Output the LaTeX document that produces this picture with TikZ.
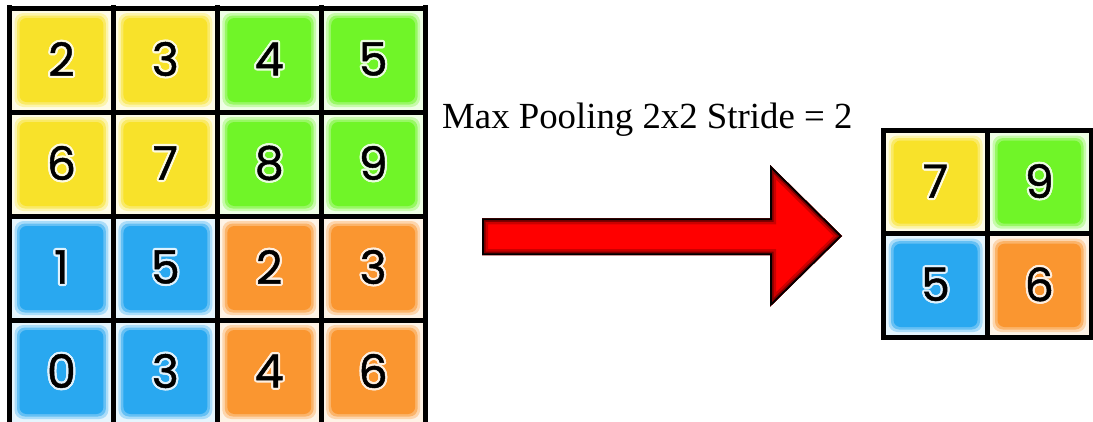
\documentclass[tikz,border=0pt]{standalone}
\usepackage{fontspec}
\setmainfont{Liberation Serif}
\newfontfamily\digitfont[FakeBold=1]{Poppins}
\definecolor{cy}{RGB}{248,226,42}
\definecolor{cg}{RGB}{112,245,40}
\definecolor{cb}{RGB}{41,168,240}
\definecolor{co}{RGB}{250,150,48}
\definecolor{arrowred}{RGB}{255,0,0}
\tikzset{
  digit/.style={font=\digitfont\fontsize{46}{50}\selectfont, inner sep=0pt, text=black},
  gridline/.style={line width=5pt, black},
  caption/.style={font=\fontsize{36.8}{42}\selectfont, inner sep=0pt, anchor=base west}
}
% #1,#2 top-left line centres; #3,#4 bottom-right; #5 colour; #6 digit; #7 name
\newcommand\poolcell[7]{%
  \fill[#5!12] (#1+2.5,#2+2.5) rectangle (#3-2.5,#4-2.5);
  \fill[#5!40, rounded corners=9pt] (#1+5,#2+5) rectangle (#3-5,#4-5);
  \fill[#5!72, rounded corners=8pt] (#1+7.5,#2+7.5) rectangle (#3-7.5,#4-7.5);
  \fill[#5, rounded corners=7pt] (#1+10,#2+10) rectangle (#3-10,#4-10);
  \foreach \a in {0,30,...,330}{
    \node[digit, text=#5!15] at ({(#1+#3)/2+2.2*cos(\a)},{(#2+#4)/2-1+2.2*sin(\a)}) {#6};
  }
  \node[digit] (#7) at ({(#1+#3)/2},{(#2+#4)/2-1}) {#6};
}
\begin{document}
\begin{tikzpicture}[x=1pt,y=-1pt]
\clip (0,0) rectangle (1093,421);
\fill[white] (0,0) rectangle (1093,421);
% left 4x4 grid
\foreach \r/\row in {0/{2/cy,3/cy,4/cg,5/cg},1/{6/cy,7/cy,8/cg,9/cg},2/{1/cb,5/cb,2/co,3/co},3/{0/cb,3/cb,4/co,6/co}}{
  \foreach \d/\c [count=\k from 0] in \row {
    \pgfmathsetmacro\xa{9.5+\k*103.9}
    \pgfmathsetmacro\xb{9.5+(\k+1)*103.9}
    \pgfmathsetmacro\ya{8+\r*104}
    \pgfmathsetmacro\yb{8+(\r+1)*104}
    \poolcell{\xa}{\ya}{\xb}{\yb}{\c}{\d}{in-\r-\k}
  }
}
\foreach \i in {0,...,4}{
  \draw[gridline] (9.5+\i*103.9,5) -- (9.5+\i*103.9,430);
  \draw[gridline] (7,8+\i*104) -- (428,8+\i*104);
}
% right 2x2 grid
\poolcell{883.5}{130.5}{987.5}{233.7}{cy}{7}{out-0-0}
\poolcell{987.5}{130.5}{1091}{233.7}{cg}{9}{out-0-1}
\poolcell{883.5}{233.7}{987.5}{337}{cb}{5}{out-1-0}
\poolcell{987.5}{233.7}{1091}{337}{co}{6}{out-1-1}
\draw[gridline] (883.5,130.5) rectangle (1091,337);
\draw[gridline] (987.5,128) -- (987.5,339.5);
\draw[gridline] (881,233.7) -- (1093,233.7);
% caption
\node[caption] (lbl) at (442,128.3) {Max Pooling 2x2 Stride = 2};
% arrow
\def\arrowpath{(482,218.3) -- (770,218.3) -- (770,165) -- (842,236) -- (770,306.7) -- (770,255) -- (482,255) -- cycle}
\fill[arrowred] \arrowpath;
\begin{scope}
  \clip \arrowpath;
  \draw[line width=12pt, red!80!black, line join=miter] \arrowpath;
  \draw[line width=7pt, red!50!black, line join=miter] \arrowpath;
  \draw[line width=3.5pt, black, line join=miter] \arrowpath;
\end{scope}
\end{tikzpicture}
\end{document}
